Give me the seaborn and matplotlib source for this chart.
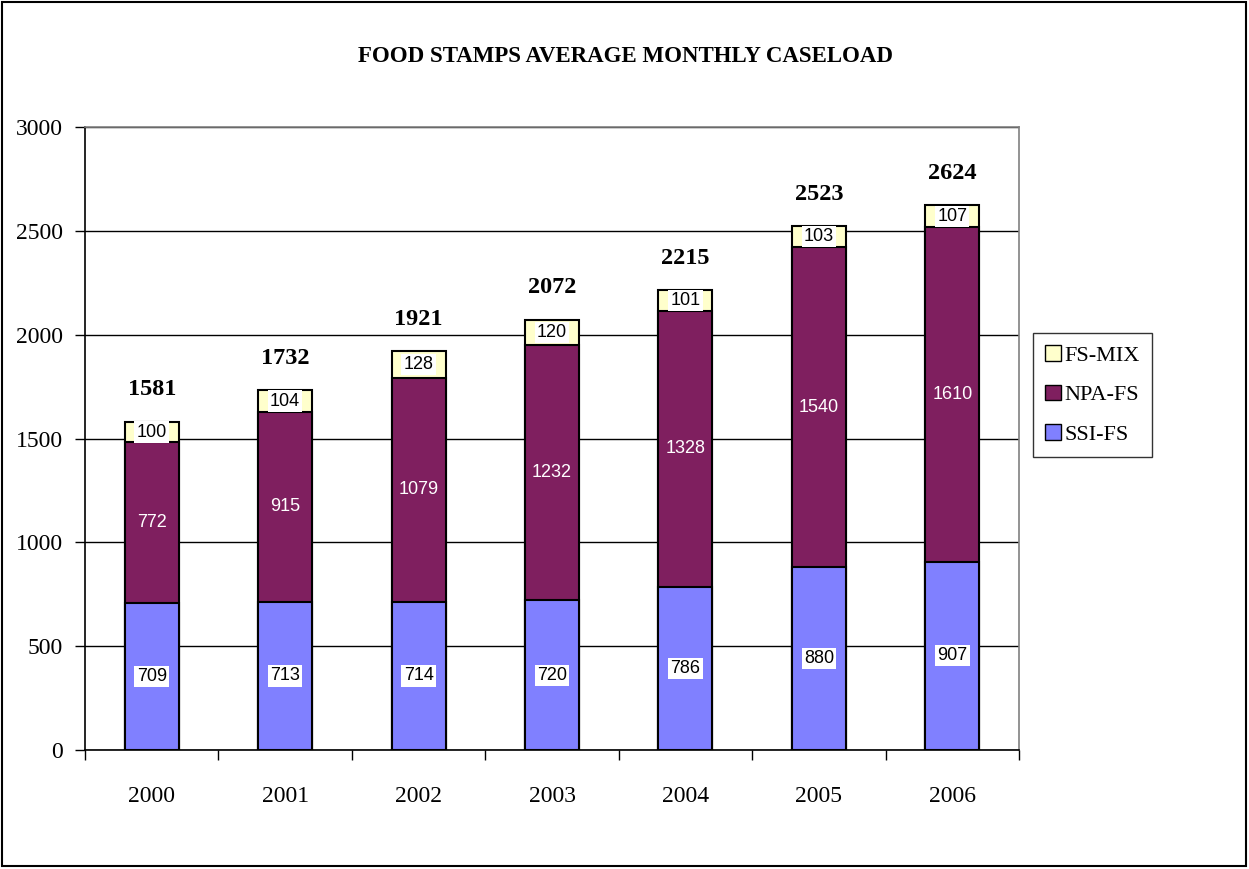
import matplotlib
matplotlib.use("Agg")
import matplotlib.pyplot as plt
import seaborn as sns
import numpy as np
import pandas as pd
from matplotlib.patches import Rectangle, Patch

years = ["2000", "2001", "2002", "2003", "2004", "2005", "2006"]
ssi_fs = [709, 713, 714, 720, 786, 880, 907]
npa_fs = [772, 915, 1079, 1232, 1328, 1540, 1610]
fs_mix = [100, 104, 128, 120, 101, 103, 107]
totals = [1581, 1732, 1921, 2072, 2215, 2523, 2624]
y_ticks = [0, 500, 1000, 1500, 2000, 2500, 3000]

C_SSI = "#8080FF"
C_NPA = "#7F1F5F"
C_MIX = "#FFFFCC"

sns.set_theme(style="white")
plt.rcParams["font.family"] = ["Liberation Serif", "DejaVu Serif"]
plt.rcParams["text.color"] = "black"
plt.rcParams["xtick.color"] = "black"
plt.rcParams["ytick.color"] = "black"
plt.rcParams["axes.labelcolor"] = "black"

fig = plt.figure(figsize=(12.49, 8.69), dpi=100)
ax = fig.add_axes([85/1249, 1-750/869, (1019-85)/1249, (750-127)/869])

lvl1 = np.array(ssi_fs)
lvl2 = lvl1 + np.array(npa_fs)
lvl3 = lvl2 + np.array(fs_mix)
df = pd.DataFrame({"year": years, "l1": lvl1, "l2": lvl2, "l3": lvl3})

bw = 0.405
for col, c in [("l3", C_MIX), ("l2", C_NPA), ("l1", C_SSI)]:
    sns.barplot(data=df, x="year", y=col, color=c, width=bw, edgecolor="black",
                linewidth=1.5, saturation=1, ax=ax, zorder=3, order=years)

ax.set_ylim(0, 3000)
ax.set_xlim(-0.5, 6.5)
ax.set_yticks(y_ticks)
ax.set_yticklabels([str(v) for v in y_ticks], fontsize=17)
ax.set_xlabel("")
ax.set_ylabel("")
ax.yaxis.grid(True, color="black", linewidth=1, zorder=0)
ax.set_axisbelow(True)

ax.set_xticks(range(len(years)))
ax.set_xticklabels(years, fontsize=17)
ax.set_xticks(np.arange(-0.5, 7.0, 1.0), minor=True)
ax.tick_params(axis="x", which="major", length=0, pad=26)
ax.tick_params(axis="x", which="minor", length=7, width=1, color="black", direction="out", bottom=True)
ax.tick_params(axis="y", which="major", length=7, width=1, color="black", direction="out", left=True, pad=9)

for s in ["left", "bottom"]:
    ax.spines[s].set_color("black")
    ax.spines[s].set_linewidth(1.2)
for s in ["top", "right"]:
    ax.spines[s].set_color("#808080")
    ax.spines[s].set_linewidth(1.2)

box = dict(facecolor="white", edgecolor="none", pad=1.5)
for i in range(len(years)):
    ax.text(i, ssi_fs[i] / 2, str(ssi_fs[i]), ha="center", va="center",
            fontsize=13, family="Liberation Sans", color="black", bbox=box, zorder=5)
    ax.text(i, lvl1[i] + npa_fs[i] / 2, str(npa_fs[i]), ha="center", va="center",
            fontsize=13, family="Liberation Sans", color="white", zorder=5)
    ax.text(i, lvl2[i] + fs_mix[i] / 2, str(fs_mix[i]), ha="center", va="center",
            fontsize=13, family="Liberation Sans", color="black", bbox=box, zorder=5)
    ax.annotate(str(totals[i]), (i, totals[i]), xytext=(0, 23), textcoords="offset points",
                ha="center", va="center", fontsize=17.5, fontweight="bold", color="black", zorder=5)

fig.text(626/1249, 1-57/869, "FOOD STAMPS AVERAGE MONTHLY CASELOAD", ha="center", va="center",
         fontsize=16.5, fontweight="bold", color="black")

handles = [Patch(facecolor=C_MIX, edgecolor="black", label="FS-MIX"),
           Patch(facecolor=C_NPA, edgecolor="black", label="NPA-FS"),
           Patch(facecolor=C_SSI, edgecolor="black", label="SSI-FS")]
leg = fig.legend(handles=handles, loc="upper left", bbox_to_anchor=(1033/1249, 1-333/869),
                 fontsize=16, frameon=True, fancybox=False, borderpad=0.55,
                 handlelength=0.7, handleheight=0.7, handletextpad=0.15, labelspacing=0.85,
                 borderaxespad=0)
leg.get_frame().set_edgecolor("black")
leg.get_frame().set_linewidth(1.0)
for t in leg.get_texts():
    t.set_color("black")

fig.patches.append(Rectangle((2/1249, 3/869), 1244/1249, 864/869, transform=fig.transFigure,
                             fill=False, edgecolor="black", linewidth=1.5))

fig.savefig("out.png", dpi=100)
